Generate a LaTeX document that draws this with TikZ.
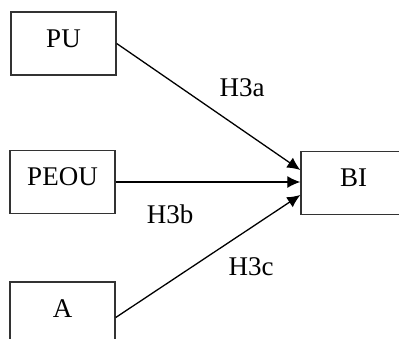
\documentclass[tikz,border=0pt]{standalone}
\usepackage{fontspec}
\setmainfont{Liberation Serif}
\usepackage{xcolor}
\usepackage{tikz}
\usetikzlibrary{arrows.meta}

\begin{document}
\begin{tikzpicture}[x=0.5pt, y=-0.5pt, >={Latex[length=6.5pt,width=6pt]},
  construct/.style={draw=black!80, line width=0.7pt, inner sep=0pt,
    minimum width=52.5pt, text height=17.5pt, text depth=14pt,
    font=\fontsize{13.5}{15}\selectfont},
  hyp/.style={font=\fontsize{13.5}{15}\selectfont},
  path/.style={->, line width=0.65pt}]
  \useasboundingbox (0,0) rectangle (399,338);
  \clip (0,0) rectangle (399,338);

  \node[construct] (pu) at (63.5,43.5) {PU};
  \node[construct] (peou) at (62.5,182) {PEOU};
  \node[construct] (a) at (62.5,313.5) {A};
  \node[construct] (bi) at (353.5,183) {BI};

  \draw[path] (pu.east) -- ([yshift=6.5pt]bi.west);
  \draw[path] (peou.east) -- (peou.east -| bi.west);
  \draw[path] ([yshift=-2pt]a.east) -- ([yshift=-6pt]bi.west);

  \node[hyp] (h3a) at (242,88) {H3a};
  \node[hyp] (h3b) at (170,214) {H3b};
  \node[hyp] (h3c) at (251,267) {H3c};
\end{tikzpicture}
\end{document}
